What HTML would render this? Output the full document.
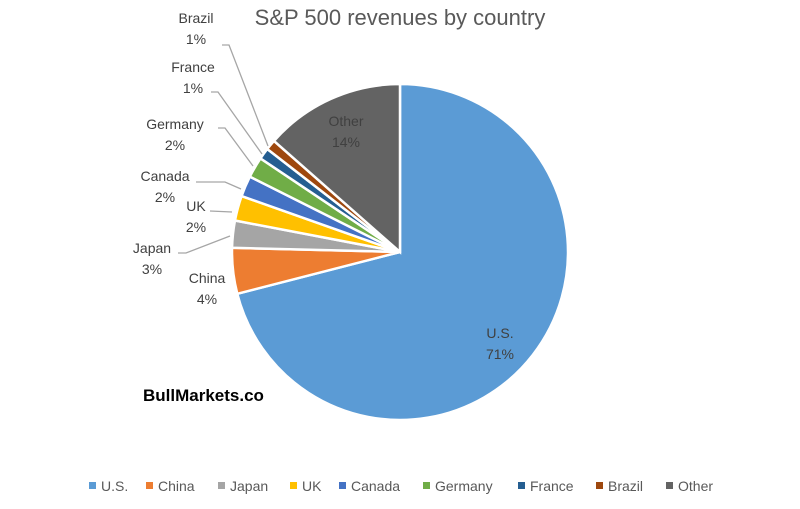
<!DOCTYPE html>
<html><head><meta charset="utf-8"><style>
body{margin:0;background:#fff;}
svg{display:block;font-family:"Liberation Sans",sans-serif;}
</style></head><body>
<svg id="chart" width="800" height="509" viewBox="0 0 800 509">
<rect width="800" height="509" fill="#fff"/>
<text x="400" y="25" text-anchor="middle" font-size="22" fill="#595959">S&amp;P 500 revenues by country</text>
<g id="slices"></g>
<g id="labels"></g>
<g id="legend"></g>
<text x="143" y="401" font-size="17" font-weight="bold" fill="#000">BullMarkets.co</text>
</svg>
<script>
const categories=["U.S.","China","Japan","UK","Canada","Germany","France","Brazil","Other"];
const values=[71.0,4.4,2.6,2.4,2.0,2.0,1.1,1.0,13.5];
const colors=["#5b9bd5","#ed7d31","#a5a5a5","#ffc000","#4472c4","#70ad47","#255e91","#9e480e","#636363"];
const labelPos=[[500,338,1],[207,283,0],[152,253,0],[196,211,0],[165,181,0],[175,129,0],[193,72,0],[196,23,0],[346,126,1]];
const leaders=[null,null,[[178,253],[186,253],[230,236]],[[210,211],[232,212]],[[196,182],[225,182],[241,189]],[[218,128],[225,128],[253,166]],[[211,92],[218,92],[262,154]],[[222,45],[229,45],[268,146]],null];
const legendX=[93,150,222,294,343,427,522,600,670];
const NS="http://www.w3.org/2000/svg";
const cx=400,cy=252,r=168;
const total=values.reduce((a,b)=>a+b,0);
function pt(frac,rad){const a=frac*2*Math.PI;return [cx+rad*Math.sin(a),cy-rad*Math.cos(a)];}
const sg=document.getElementById('slices'),lg=document.getElementById('labels'),leg=document.getElementById('legend');
let acc=0;
values.forEach((v,i)=>{
  const f0=acc/total,f1=(acc+v)/total;acc+=v;
  const p0=pt(f0,r),p1=pt(f1,r);const large=(f1-f0)>0.5?1:0;
  const p=document.createElementNS(NS,'path');
  p.setAttribute('d',`M${cx},${cy}L${p0[0]},${p0[1]}A${r},${r} 0 ${large} 1 ${p1[0]},${p1[1]}Z`);
  p.setAttribute('fill',colors[i]);p.setAttribute('stroke','#fff');p.setAttribute('stroke-width','2.5');
  
  
  sg.appendChild(p);
  const [lx,ly,inside]=labelPos[i];
  const t=document.createElementNS(NS,'text');
  t.setAttribute('x',lx);t.setAttribute('y',ly);t.setAttribute('text-anchor','middle');t.setAttribute('font-size','14');
  t.setAttribute('fill',i===8?'#404040':'#404040');
  
  
  const s1=document.createElementNS(NS,'tspan');s1.setAttribute('x',lx);s1.textContent=categories[i];
  const s2=document.createElementNS(NS,'tspan');s2.setAttribute('x',lx);s2.setAttribute('dy','21');s2.textContent=Math.round(v)+'%';
  t.appendChild(s1);t.appendChild(s2);lg.appendChild(t);
  if(leaders[i]){
    const pl=document.createElementNS(NS,'polyline');
    pl.setAttribute('points',leaders[i].map(q=>q.join(',')).join(' '));
    pl.setAttribute('fill','none');pl.setAttribute('stroke','#a6a6a6');pl.setAttribute('stroke-width','1.3');
    
    
    lg.appendChild(pl);
  }
  const g=document.createElementNS(NS,'g');
  
  
  const m=document.createElementNS(NS,'rect');
  m.setAttribute('x',legendX[i]-4);m.setAttribute('y',482);m.setAttribute('width',7);m.setAttribute('height',7);m.setAttribute('fill',colors[i]);
  const lt=document.createElementNS(NS,'text');
  lt.setAttribute('x',legendX[i]+8);lt.setAttribute('y',491);lt.setAttribute('font-size','14');lt.setAttribute('fill','#595959');
  lt.textContent=categories[i];
  g.appendChild(m);g.appendChild(lt);leg.appendChild(g);
});
</script>
</body></html>
